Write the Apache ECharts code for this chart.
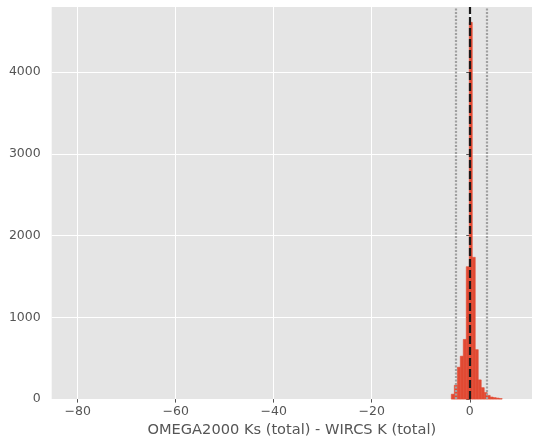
<!DOCTYPE html>
<html>
<head>
<meta charset="utf-8">
<script src="https://cdn.jsdelivr.net/npm/echarts@6/dist/echarts.min.js"></script>
<style>
  html, body { margin: 0; padding: 0; background: #ffffff; }
  #chart { width: 533px; height: 443px; }
</style>
</head>
<body>
<div id="chart"></div>
<script>
// Histogram bin edges (x units) and counts
const binEdges = [-3.76, -3.15, -2.54, -1.93, -1.32, -0.71, -0.10, 0.51, 1.12, 1.73, 2.34, 2.95, 3.56, 4.17, 4.78, 5.39, 6.00, 6.61];
const binCounts = [60, 170, 390, 525, 730, 1620, 4610, 1735, 605, 235, 140, 80, 45, 25, 18, 12, 6];
// Reference lines
const centerLine = 0.05;
const boundLines = [-2.8, 3.4];
// Axis setup
const xRange = [-85.3, 12.7];
const yRange = [0, 4798];
const xTicks = [-80, -60, -40, -20, 0];
const yTicks = [0, 1000, 2000, 3000, 4000];
const xLabel = 'OMEGA2000 Ks (total) - WIRCS K (total)';

const histData = binCounts.map((c, i) => [binEdges[i], binEdges[i + 1], c]);

const chart = echarts.init(document.getElementById('chart'), null, { renderer: 'canvas' });

const font = 'DejaVu Sans';
chart.setOption({
  animation: false,
  backgroundColor: '#ffffff',
  grid: { left: 51.7, right: 1, top: 7, bottom: 43.7, show: true, backgroundColor: '#E5E5E5', borderWidth: 0 },
  xAxis: {
    type: 'value', min: xRange[0], max: xRange[1], splitNumber: 5,
    name: xLabel, nameLocation: 'middle', nameGap: 23,
    nameTextStyle: { color: '#555555', fontSize: 14.6, fontFamily: font },
    axisLine: { show: false },
    axisTick: { show: true, length: 3.5, lineStyle: { color: '#555555' }, customValues: xTicks },
    axisLabel: { color: '#555555', fontSize: 12.5, fontFamily: font, margin: 6, customValues: xTicks,
      formatter: v => (v < 0 ? '\u2212' + Math.abs(v) : String(v)) },
    splitLine: { show: true, lineStyle: { color: '#ffffff', width: 1 } }
  },
  yAxis: {
    type: 'value', min: yRange[0], max: yRange[1], interval: 1000,
    axisLine: { show: false },
    axisTick: { show: true, length: 3.5, lineStyle: { color: '#555555' }, customValues: yTicks },
    axisLabel: { color: '#555555', fontSize: 12.5, fontFamily: font, margin: 11, customValues: yTicks,
      formatter: v => String(v) },
    splitLine: { show: true, lineStyle: { color: '#ffffff', width: 1 } }
  },
  series: [{
    type: 'custom',
    data: histData,
    renderItem: (params, api) => {
      const p0 = api.coord([api.value(0), api.value(2)]);
      const p1 = api.coord([api.value(1), 0]);
      return {
        type: 'rect',
        shape: { x: p0[0], y: p0[1], width: p1[0] - p0[0], height: p1[1] - p0[1] },
        style: { fill: '#E24A33', stroke: '#E24A33', lineWidth: 0.6 }
      };
    },
    encode: { x: [0, 1], y: 2 },
    z: 2,
    markLine: {
      silent: true, symbol: 'none', label: { show: false }, animation: false,
      data: [
        { xAxis: boundLines[0], lineStyle: { color: '#a0a0a0', width: 2.2, type: [2, 1.5] } },
        { xAxis: boundLines[1], lineStyle: { color: '#a0a0a0', width: 2.2, type: [2, 1.5] } },
        { xAxis: centerLine, lineStyle: { color: '#1a1a1a', width: 2.2, type: [8, 3] } }
      ]
    }
  }]
});
</script>
</body>
</html>
